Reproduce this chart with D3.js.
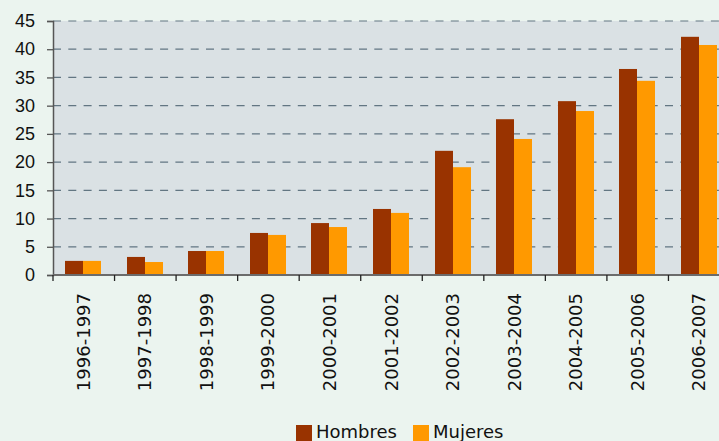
<!DOCTYPE html>
<html>
<head>
<meta charset="utf-8">
<script src="https://cdn.jsdelivr.net/npm/d3@7"></script>
<style>
  body { margin: 0; background: #ebf4ef; }
  svg { display: block; font-family: "DejaVu Sans", sans-serif; }
</style>
</head>
<body>
<svg id="chart"></svg>
<script>
/* DATA */
const periods = ["1996-1997", "1997-1998", "1998-1999", "1999-2000", "2000-2001", "2001-2002",
  "2002-2003", "2003-2004", "2004-2005", "2005-2006", "2006-2007"];
const hombres = [2.5, 3.2, 4.25, 7.45, 9.2, 11.7, 22.0, 27.6, 30.8, 36.5, 42.2];
const mujeres = [2.5, 2.3, 4.25, 7.1, 8.5, 11.0, 19.1, 24.1, 29.05, 34.4, 40.75];
const yTicks = [0, 5, 10, 15, 20, 25, 30, 35, 40, 45];
const seriesNames = ["Hombres", "Mujeres"];
const colors = ["#993300", "#ff9900"];

/* CONSTANTS */
const width = 719,
  height = 441,
  margin = { top: 21, bottom: 166, left: 53, right: -11 },
  barW = 18;

const svg = d3.select("#chart")
  .attr("width", width)
  .attr("height", height);

// + SCALES
const xScale = d3.scaleBand()
  .domain(periods)
  .range([margin.left, width - margin.right])
  .padding(0);

const yScale = d3.scaleLinear()
  .domain([0, 45])
  .range([height - margin.bottom, margin.top]);

// plot background
svg.append("rect")
  .attr("x", margin.left)
  .attr("y", yScale(45))
  .attr("width", width - margin.left)
  .attr("height", yScale(0) - yScale(45))
  .attr("fill", "#dae1e4");

// gridlines (dashed)
svg.append("g")
  .selectAll("line")
  .data(yTicks.filter(d => d > 0))
  .join("line")
  .attr("x1", margin.left)
  .attr("x2", width)
  .attr("y1", d => yScale(d))
  .attr("y2", d => yScale(d))
  .attr("stroke", "#627682")
  .attr("stroke-width", 1.2)
  .attr("stroke-dasharray", "8,7.3");

// bars
const rows = periods.map((p, i) => ({ period: p, values: [hombres[i], mujeres[i]] }));

svg.append("g")
  .selectAll("g")
  .data(rows)
  .join("g")
  .attr("transform", d => `translate(${Math.round(xScale(d.period) + xScale.bandwidth() / 2 - barW - 0.5)},0)`)
  .selectAll("rect")
  .data(d => d.values)
  .join("rect")
  .attr("x", (d, i) => i * barW)
  .attr("y", d => yScale(d))
  .attr("width", barW)
  .attr("height", d => yScale(0) - yScale(d))
  .attr("fill", (d, i) => colors[i]);

// + AXES
const yAxis = d3.axisLeft(yScale)
  .tickValues(yTicks)
  .tickSize(6)
  .tickPadding(12);

const yAxisGroup = svg.append("g")
  .attr("transform", `translate(${margin.left},0)`)
  .call(yAxis);
yAxisGroup.select(".domain").attr("stroke", "#555").attr("stroke-width", 1.5);
yAxisGroup.selectAll(".tick line").attr("stroke", "#555").attr("stroke-width", 1.3);
yAxisGroup.selectAll("text")
  .attr("font-size", 18)
  .attr("fill", "#111");

const xAxisGroup = svg.append("g")
  .attr("transform", `translate(0,${yScale(0)})`);

xAxisGroup.append("line")
  .attr("x1", margin.left)
  .attr("x2", width)
  .attr("stroke", "#6b6b6b")
  .attr("stroke-width", 2);

// category boundary ticks
xAxisGroup.selectAll(".xtick")
  .data(periods)
  .join("line")
  .attr("class", "xtick")
  .attr("x1", d => xScale(d))
  .attr("x2", d => xScale(d))
  .attr("y1", 0)
  .attr("y2", 6)
  .attr("stroke", "#222")
  .attr("stroke-width", 1.3);

xAxisGroup.selectAll(".xlabel")
  .data(periods)
  .join("text")
  .attr("class", "xlabel")
  .attr("transform", d => `translate(${xScale(d) + xScale.bandwidth() / 2 + 6},18) rotate(-90)`)
  .attr("text-anchor", "end")
  .attr("font-size", 18)
  .attr("fill", "#111")
  .text(d => d);

// legend
const legend = svg.append("g");
const legendX = [296, 413];
seriesNames.forEach((name, i) => {
  legend.append("rect")
    .attr("x", legendX[i])
    .attr("y", 425)
    .attr("width", 16)
    .attr("height", 16)
    .attr("fill", colors[i]);
  legend.append("text")
    .attr("x", legendX[i] + 20)
    .attr("y", 438)
    .attr("font-size", 18)
    .attr("fill", "#111")
    .text(name);
});
</script>
</body>
</html>
